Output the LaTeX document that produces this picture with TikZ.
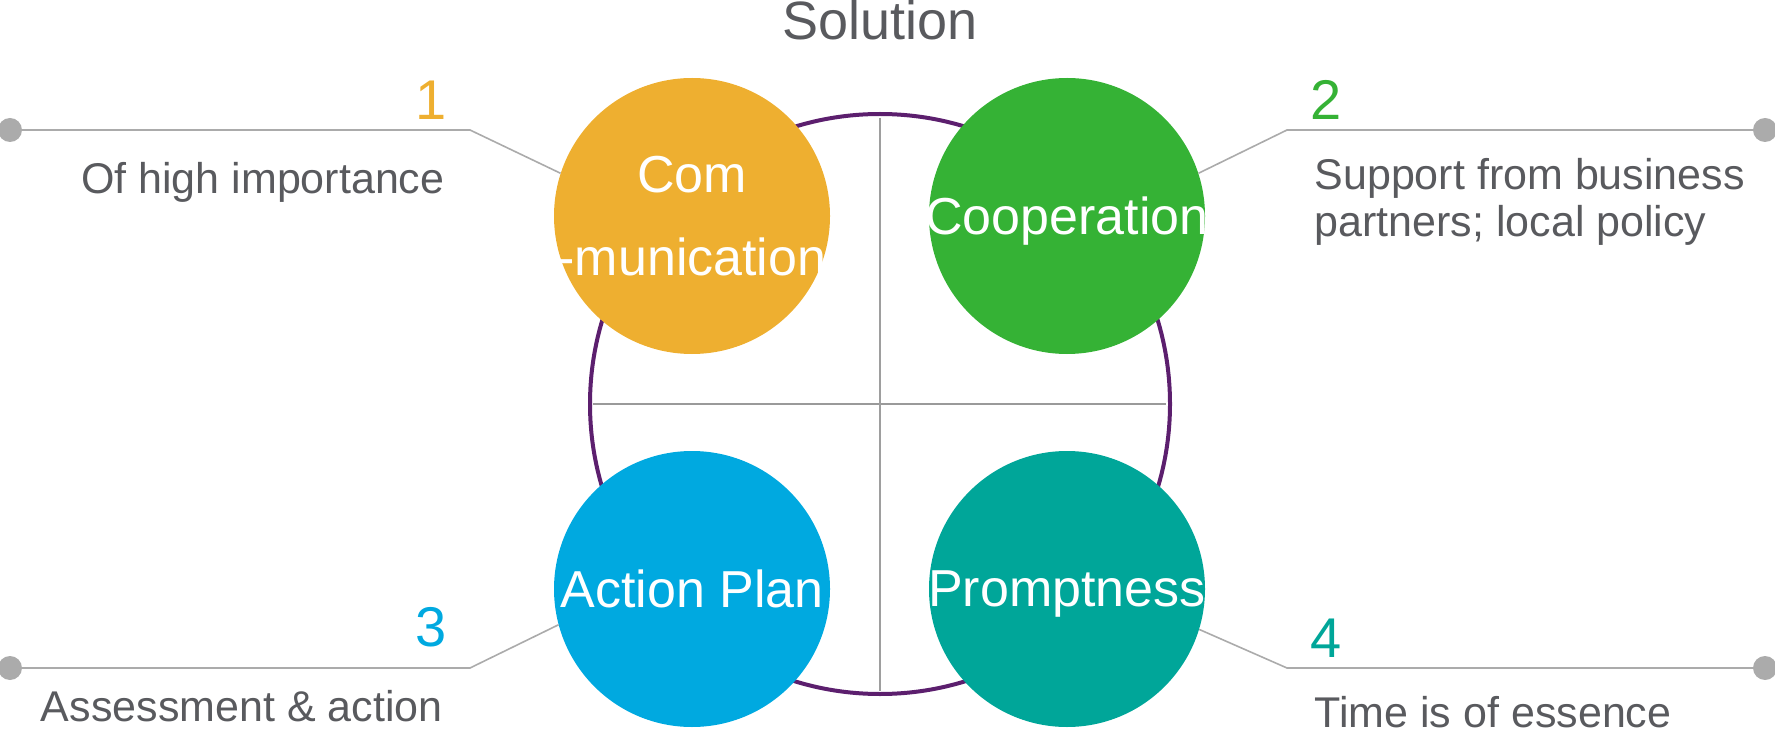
\documentclass[tikz,border=0pt]{standalone}
\usepackage{fontspec}
\setmainfont{Liberation Sans}
\usetikzlibrary{calc}
\definecolor{ringpurple}{HTML}{5C1F6E}
\definecolor{comorange}{HTML}{EEAF30}
\definecolor{coopgreen}{HTML}{35B235}
\definecolor{planblue}{HTML}{00A9E0}
\definecolor{promptteal}{HTML}{00A699}
\definecolor{txtgray}{HTML}{595A5E}
\definecolor{leadgray}{HTML}{ABABAB}

\begin{document}
\begin{tikzpicture}[x=1pt,y=-1pt,
  bubble/.style={circle,minimum size=276pt,inner sep=0pt},
  bubtext/.style={inner sep=0pt,text=white,align=center,
    text depth=0pt,font=\fontsize{52}{83}\selectfont},
  numlabel/.style={anchor=base,font=\fontsize{56}{60}\selectfont},
  desc/.style={text=txtgray,align=left,font=\fontsize{43}{47}\selectfont},
  dot/.style={circle,fill=leadgray,minimum size=24pt,inner sep=0pt},
  leader/.style={draw=leadgray,line width=1.6pt}]
  \useasboundingbox (0,0) rectangle (1775,735);
  \node[anchor=base,text=txtgray,font=\fontsize{54}{60}\selectfont] (title) at (880,40){Solution};
  % ring and cross
  \draw[ringpurple,line width=4pt] (880,404) circle[radius=290];
  \draw[leadgray!60!gray,line width=2pt] (593,404)--(1166,404);
  \draw[leadgray!70!gray,line width=1.3pt] (880,118)--(880,691);
  \node[bubble,fill=comorange] (c1) at (692,216){};
  \node[bubble,fill=coopgreen] (c2) at (1067,216){};
  \node[bubble,fill=planblue] (c3) at (692,589){};
  \node[bubble,fill=promptteal] (c4) at (1067,589){};
  \node[bubtext] (l1) at (c1){Com\\-munication};
  \node[bubtext] (l2) at (c2){Cooperation};
  \node[bubtext] (l3) at (c3){Action Plan};
  \node[bubtext] (l4) at (c4){Promptness};
  % leaders
  \node[dot] (d1) at (10,130){};
  \node[dot] (d2) at (1765,130){};
  \node[dot] (d3) at (10,668){};
  \node[dot] (d4) at (1765,668){};
  \coordinate (e1) at (470,130);
  \coordinate (e2) at (1287,130);
  \coordinate (e3) at (470,668);
  \coordinate (e4) at (1287,668);
  \draw[leader] (d1.center)--(e1)--(c1.162);
  \draw[leader] (d2.center)--(e2)--(c2.18);
  \draw[leader] (d3.center)--(e3)--(c3.195);
  \draw[leader] (d4.center)--(e4)--(c4.343);
  \node[numlabel,text=comorange] (n1) at (431,120){1};
  \node[numlabel,text=coopgreen] (n2) at (1326,120){2};
  \node[numlabel,text=planblue] (n3) at (431,646){3};
  \node[numlabel,text=promptteal] (n4) at (1326,657){4};
  \node[desc,anchor=base east] (t1) at (448,194){Of high importance};
  \node[desc,anchor=base west] (t2) at (1311,237){Support from business\\partners; local policy};
  \node[desc,anchor=base east] (t3) at (446,721){Assessment \& action};
  \node[desc,anchor=base west] (t4) at (1311,727){Time is of essence};
 \end{tikzpicture}
\end{document}
